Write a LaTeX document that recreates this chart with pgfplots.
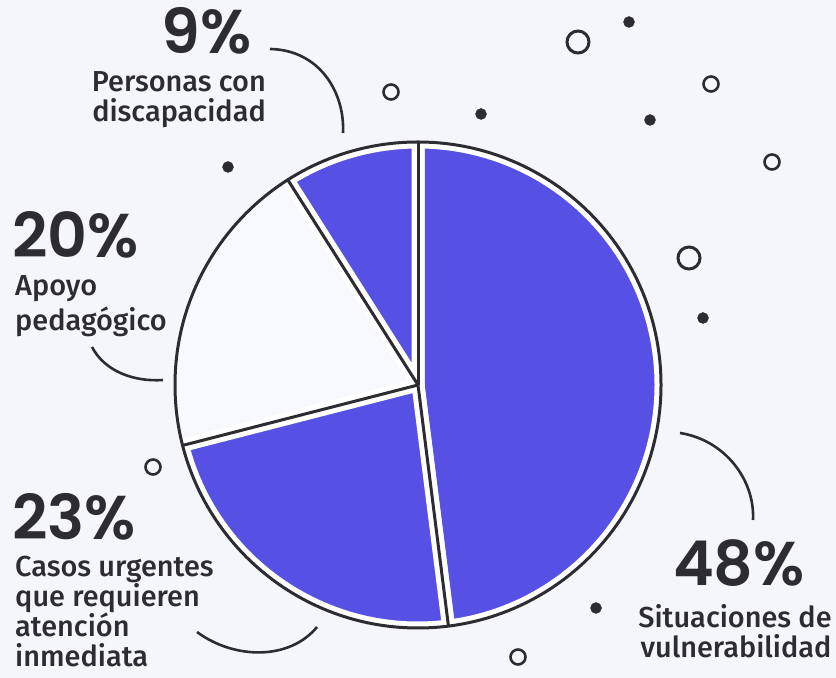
\documentclass[border=0pt]{standalone}
\usepackage{pgfplots}
\pgfplotsset{compat=1.18}
\usepackage{fontspec}
\newfontfamily\pctfont{Poppins SemiBold}
\newfontfamily\labfont{Fira Sans Medium}
\definecolor{bg}{RGB}{245,246,250}
\definecolor{disk}{RGB}{248,249,252}
\definecolor{pieblue}{RGB}{86,80,229}
\definecolor{ink}{RGB}{44,44,50}
% pie values (percent), clockwise from the top
\def\pA{48}\def\pB{23}\def\pC{20}\def\pD{9}
\pgfmathsetmacro\aZ{90}
\pgfmathsetmacro\aA{\aZ-\pA*3.6}
\pgfmathsetmacro\aB{\aA-\pB*3.6}
\pgfmathsetmacro\aC{\aB-\pC*3.6}
\pgfmathsetmacro\aD{\aC-\pD*3.6}
\def\R{243bp}
\tikzset{pct/.style={inner sep=0, text=ink, text depth=0pt, font=\pctfont\fontsize{62}{62}\selectfont},
         lab/.style={inner sep=0, text=ink, font=\labfont\fontsize{29}{31}\selectfont}}
\begin{document}
\begin{tikzpicture}
\begin{axis}[
  scale only axis, width=836bp, height=678bp,
  xmin=0, xmax=836, ymin=0, ymax=678,
  hide axis, clip=false,
]
\fill[bg] (axis cs:0,0) rectangle (axis cs:836,678);
\fill[disk] (axis cs:418,293) circle[radius=\R];
% blue wedges
\filldraw[fill=pieblue, draw=white, line width=13bp, line join=round]
  (axis cs:418,293) -- ++(\aZ:\R) arc[start angle=\aZ, end angle=\aA, radius=\R] -- cycle;
\filldraw[fill=pieblue, draw=white, line width=13bp, line join=round]
  (axis cs:418,293) -- ++(\aA:\R) arc[start angle=\aA, end angle=\aB, radius=\R] -- cycle;
\filldraw[fill=pieblue, draw=white, line width=13bp, line join=round]
  (axis cs:418,293) -- ++(\aC:\R) arc[start angle=\aC, end angle=\aD, radius=\R] -- cycle;
% cover spill outside the disk
\draw[bg, line width=14bp] (axis cs:418,293) circle[radius=251bp];
% outline
\draw[ink, line width=3bp] (axis cs:418,293) circle[radius=\R];
\draw[ink, line width=3bp] (axis cs:418,293) -- ++(\aZ:\R);
\draw[ink, line width=3bp] (axis cs:418,293) -- ++(\aA:\R);
\draw[ink, line width=3bp] (axis cs:418,293) -- ++(\aB:\R);
\draw[ink, line width=3bp] (axis cs:418,293) -- ++(\aC:\R);
% connectors
\draw[ink, line width=2.6bp] (axis cs:270,629) .. controls (axis cs:320,628) and (axis cs:345,585) .. (axis cs:343,545);
\draw[ink, line width=2.6bp] (axis cs:92,331) .. controls (axis cs:105,306) and (axis cs:135,296) .. (axis cs:163,298);
\draw[ink, line width=2.6bp] (axis cs:197,46) .. controls (axis cs:235,18) and (axis cs:290,18) .. (axis cs:317,51);
\draw[ink, line width=2.6bp] (axis cs:680,245) .. controls (axis cs:725,238) and (axis cs:755,198) .. (axis cs:753,158);
% decorative dots
\addplot[only marks, mark=*, mark size=5.5bp, mark options={fill=ink, draw=ink}]
  coordinates {(629,656) (650,558) (703,360) (228,511) (481,564) (596,70)};
\addplot[only marks, mark=o, mark size=11bp, mark options={draw=ink, line width=3bp}]
  coordinates {(578,636) (689,420)};
\addplot[only marks, mark=o, mark size=7.5bp, mark options={draw=ink, line width=2.6bp}]
  coordinates {(711,594) (772,516) (391,586) (518,21) (153,211)};
% labels
\node[pct, anchor=base east] at (axis cs:252,624) {9\%};
\node[lab, anchor=base east] at (axis cs:266,586) {Personas con};
\node[lab, anchor=base east] at (axis cs:266,556) {discapacidad};
\node[pct, anchor=base west] at (axis cs:12,420) {20\%};
\node[lab, anchor=base west] at (axis cs:15,382) {Apoyo};
\node[lab, anchor=base west] at (axis cs:15,347) {pedagógico};
\node[pct, anchor=base west] at (axis cs:12,138) {23\%};
\node[lab, anchor=base west] at (axis cs:15,101) {Casos urgentes};
\node[lab, anchor=base west] at (axis cs:15,71) {que requieren};
\node[lab, anchor=base west] at (axis cs:15,41) {atención};
\node[lab, anchor=base west] at (axis cs:15,12) {inmediata};
\node[pct, anchor=base] at (axis cs:739,92) {48\%};
\node[lab, anchor=base] at (axis cs:735,50) {Situaciones de};
\node[lab, anchor=base] at (axis cs:736,21) {vulnerabilidad};
\end{axis}
\end{tikzpicture}
\end{document}
